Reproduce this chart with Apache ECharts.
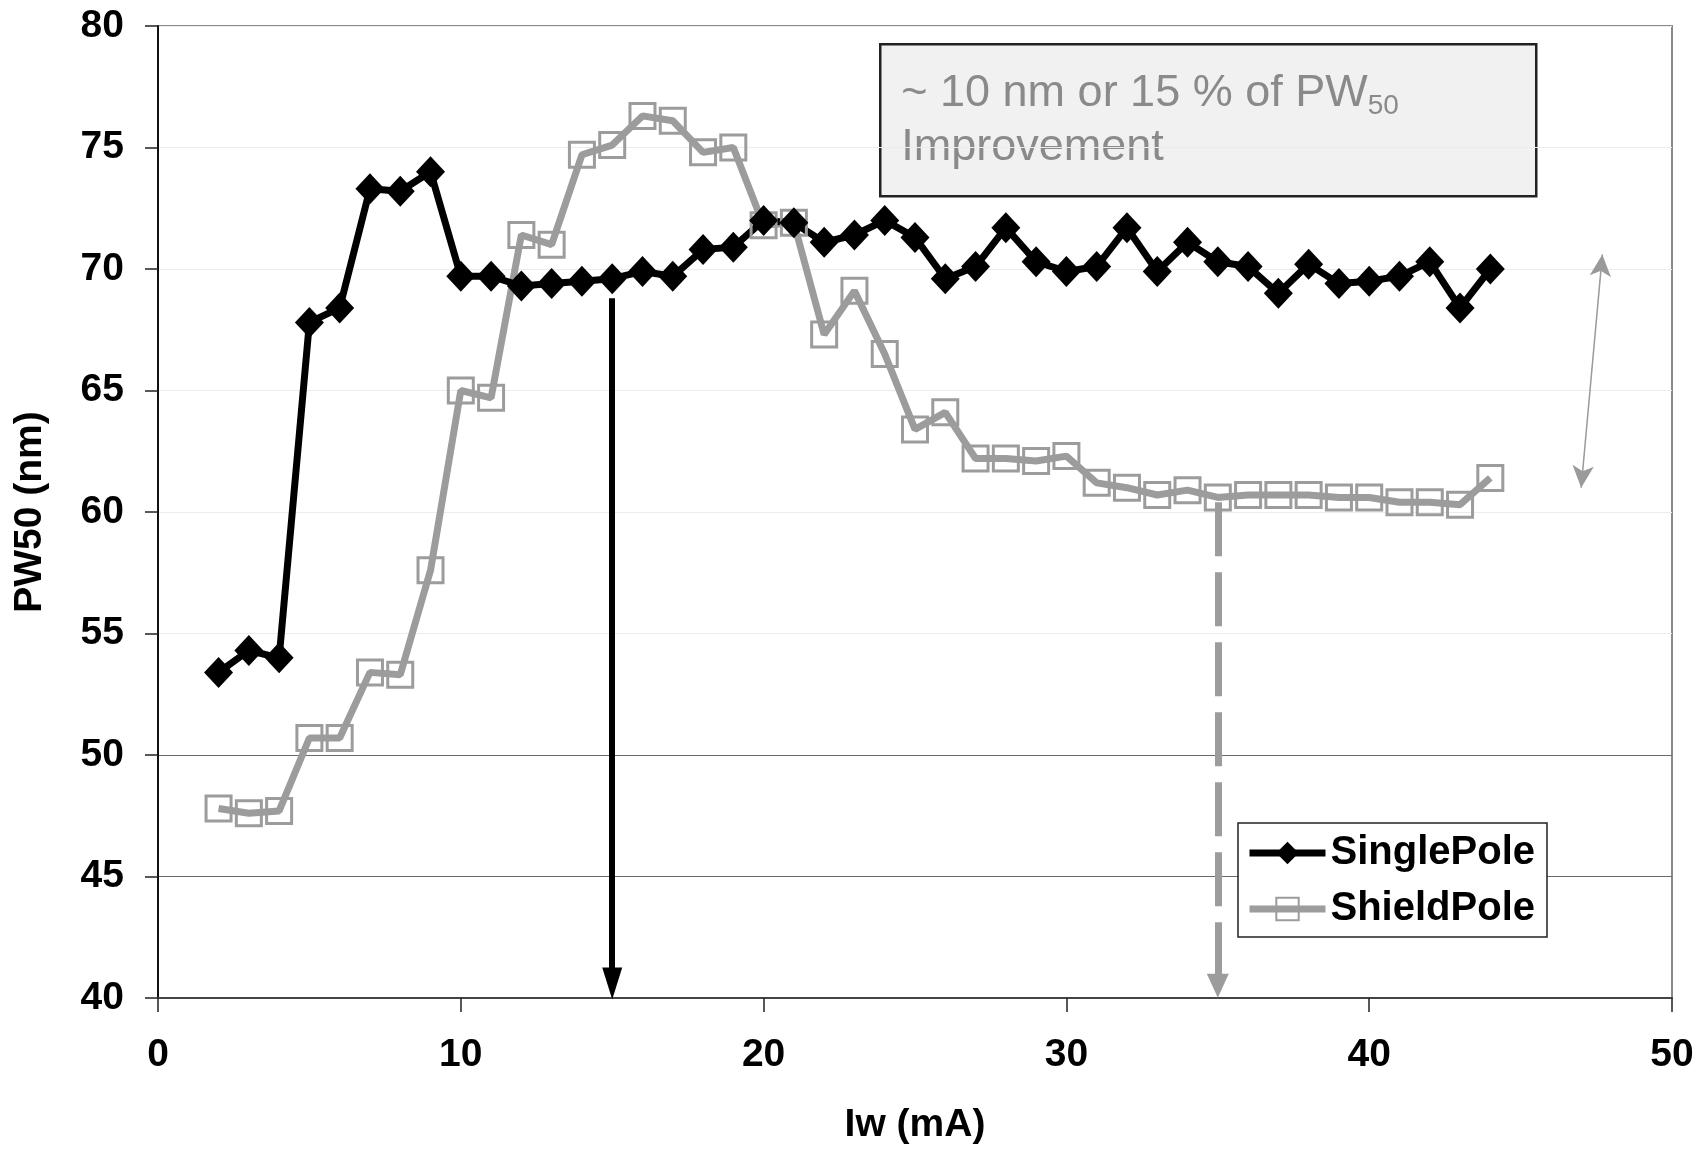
<!DOCTYPE html>
<html>
<head>
<meta charset="utf-8">
<script src="https://cdn.jsdelivr.net/npm/echarts@6/dist/echarts.min.js"></script>
<style>
  html, body { margin: 0; padding: 0; background: #fff; }
  #myLine { width: 1701px; height: 1160px; }
</style>
</head>
<body>
<div id="myLine"></div>
<script>
// Iw (mA) values, same for both series
var iw = [2, 3, 4, 5, 6, 7, 8, 9, 10, 11, 12, 13, 14, 15, 16, 17, 18, 19, 20, 21, 22, 23,
    24, 25, 26, 27, 28, 29, 30, 31, 32, 33, 34, 35, 36, 37, 38, 39, 40, 41, 42, 43, 44];

var singlePole = [53.4, 54.3, 54.0, 67.8, 68.4, 73.3, 73.2, 74.0, 69.7, 69.7, 69.3, 69.4,
    69.5, 69.6, 69.9, 69.7, 70.8, 70.9, 72.0, 71.9, 71.1, 71.4, 72.0, 71.3, 69.6, 70.1,
    71.7, 70.3, 69.9, 70.1, 71.7, 69.9, 71.1, 70.3, 70.1, 69.0, 70.2, 69.4, 69.5, 69.7,
    70.3, 68.4, 70.0];

var shieldPole = [47.8, 47.6, 47.7, 50.7, 50.7, 53.4, 53.3, 57.6, 65.0, 64.7, 71.4, 71.0,
    74.7, 75.1, 76.3, 76.1, 74.8, 75.0, 71.8, 71.9, 67.3, 69.1, 66.5, 63.4, 64.1, 62.2,
    62.2, 62.1, 62.3, 61.2, 61.0, 60.7, 60.9, 60.6, 60.7, 60.7, 60.7, 60.6, 60.6, 60.4,
    60.4, 60.3, 61.4];

var yTicks = [40, 45, 50, 55, 60, 65, 70, 75, 80];

// arrows drawn on the chart (value coordinates)
var blackArrow = [[15, 68.8], [15, 40.6]];
var grayArrow = [[35, 60.4], [35, 40.5]];
var handArrow = [[47.7, 70.6], [47.0, 61.0]];

function pairs(xs, ys) {
    var out = [];
    for (var i = 0; i < xs.length; i++) out.push([xs[i], ys[i]]);
    return out;
}

var font = 'Liberation Sans, Arial, Helvetica, sans-serif';

// faint grid, with the 45 and 50 lines darker as in the scan
var gridColors = yTicks.map(function (v) {
    return (v === 45 || v === 50) ? '#6a6a6a' : '#ececec';
});

var dom = document.getElementById("myLine");
var myChart = echarts.init(dom);
var option = {
    animation: false,
    backgroundColor: '#fff',
    textStyle: { fontFamily: font },
    grid: {
        left: 158,
        right: 29,
        top: 26,
        bottom: 162,
        show: true,
        borderColor: '#8a8a8a',
        borderWidth: 2
    },
    legend: {
        orient: 'vertical',
        left: 1238,
        top: 823,
        data: ['SinglePole', 'ShieldPole'],
        backgroundColor: '#fff',
        borderColor: '#222',
        borderWidth: 1.5,
        padding: [10, 12, 8, 8],
        itemWidth: 76,
        itemHeight: 28,
        itemGap: 16,
        lineStyle: { width: 7 },
        textStyle: { fontSize: 40, fontWeight: 'bold', color: '#000', fontFamily: font }
    },
    xAxis: {
        type: 'value',
        min: 0,
        max: 50,
        interval: 10,
        name: 'Iw (mA)',
        nameLocation: 'middle',
        nameGap: 108,
        nameTextStyle: { fontSize: 39, fontWeight: 'bold', color: '#000' },
        axisLine: { lineStyle: { color: '#444', width: 2 } },
        axisTick: { show: true, length: 14, lineStyle: { color: '#222', width: 1.5 } },
        axisLabel: { margin: 38, fontSize: 39, fontWeight: 'bold', color: '#000' },
        splitLine: { show: false }
    },
    yAxis: {
        type: 'value',
        min: 40,
        max: 80,
        interval: 5,
        name: 'PW50 (nm)',
        nameLocation: 'middle',
        nameRotate: 90,
        nameGap: 108,
        nameTextStyle: { fontSize: 39, fontWeight: 'bold', color: '#000' },
        axisLine: { show: true, lineStyle: { color: '#111', width: 2 } },
        axisTick: { show: true, length: 13, lineStyle: { color: '#222', width: 1.5 } },
        axisLabel: { margin: 34, fontSize: 39, fontWeight: 'bold', color: '#000' },
        splitLine: { show: true, lineStyle: { color: gridColors, width: 1.2 } }
    },
    graphic: [{
        type: 'group',
        left: 879,
        top: 43,
        children: [{
            type: 'rect',
            shape: { x: 0, y: 0, width: 656, height: 152 },
            style: { fill: '#f1f1f1', stroke: '#222', lineWidth: 2.5 }
        }, {
            type: 'text',
            x: 21,
            y: 22,
            style: {
                text: '{m|~ 10 nm or 15 % of PW}{s|50}\n{m|Improvement}',
                fill: '#8a8a8a',
                fontFamily: font,
                rich: {
                    m: { fontSize: 45, lineHeight: 54, fill: '#8a8a8a', fontFamily: font },
                    s: { fontSize: 28, lineHeight: 18, verticalAlign: 'bottom', fill: '#8a8a8a', fontFamily: font }
                }
            }
        }]
    }],
    series: [{
        name: 'ShieldPole',
        type: 'line',
        data: pairs(iw, shieldPole),
        symbol: 'rect',
        symbolSize: 25,
        showAllSymbol: true,
        lineStyle: { color: '#9c9c9c', width: 7 },
        itemStyle: { color: 'rgba(255,255,255,0)', borderColor: '#9c9c9c', borderWidth: 3 },
        markLine: {
            silent: true,
            animation: false,
            label: { show: false },
            data: [
                [{ coord: grayArrow[0], symbol: 'none' },
                 { coord: grayArrow[1], symbol: 'triangle', symbolSize: [22, 24] }],
                [{ coord: handArrow[0], symbol: 'arrow', symbolSize: [16, 22] },
                 { coord: handArrow[1], symbol: 'arrow', symbolSize: [16, 22],
                   lineStyle: { color: '#9a9a9a', width: 1.5, type: 'solid' } }]
            ],
            lineStyle: { color: '#9c9c9c', width: 7, type: [54, 16] }
        }
    }, {
        name: 'SinglePole',
        type: 'line',
        data: pairs(iw, singlePole),
        symbol: 'diamond',
        symbolSize: [29, 31],
        showAllSymbol: true,
        lineStyle: { color: '#000', width: 7 },
        itemStyle: { color: '#000' },
        markLine: {
            silent: true,
            animation: false,
            label: { show: false },
            data: [
                [{ coord: blackArrow[0], symbol: 'none' },
                 { coord: blackArrow[1], symbol: 'triangle', symbolSize: [20, 32] }]
            ],
            lineStyle: { color: '#000', width: 6, type: 'solid' }
        }
    }]
};

myChart.setOption(option, true);
</script>
</body>
</html>
